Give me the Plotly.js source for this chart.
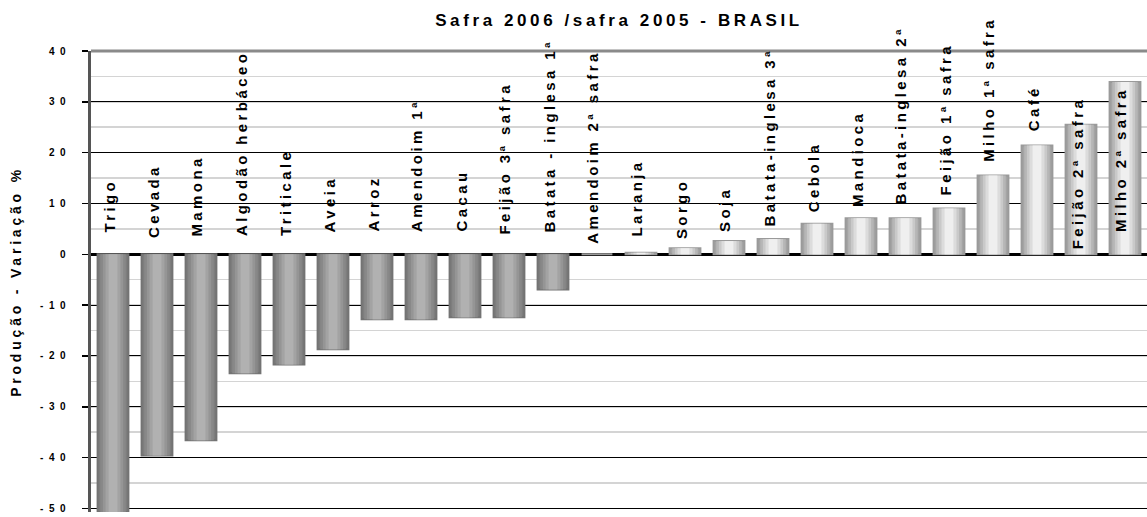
<!DOCTYPE html>
<html>
<head>
<meta charset="utf-8">
<script src="https://cdn.plot.ly/plotly-3.0.1.min.js"></script>
<style>
  html, body { margin: 0; padding: 0; background: #fff; }
  #chart { width: 1147px; height: 517px; }
  .annotation-text { letter-spacing: 3.4px; }
  .gtitle { letter-spacing: 3.6px; }
  .ytick text { letter-spacing: 5.5px; }
  .ytitle { letter-spacing: 3.8px; }
</style>
</head>
<body>
<div id="chart"></div>
<script>
// ---- data ----
const categories = [
  "Trigo", "Cevada", "Mamona", "Algodão herbáceo", "Triticale", "Aveia", "Arroz",
  "Amendoim 1ª", "Cacau", "Feijão 3ª safra", "Batata - inglesa 1ª", "Amendoim 2ª safra",
  "Laranja", "Sorgo", "Soja", "Batata-inglesa 3ª", "Cebola", "Mandioca",
  "Batata-inglesa 2ª", "Feijão 1ª safra", "Milho 1ª safra", "Café", "Feijão 2ª safra", "Milho 2ª safra"
];
const variation = [
  -50.7, -39.6, -36.6, -23.4, -21.7, -18.7, -12.8,
  -12.8, -12.4, -12.4, -6.9, 0.0,
  0.3, 1.2, 2.6, 3.0, 6.0, 7.1,
  7.1, 9.0, 15.5, 21.4, 25.5, 33.9
];
const yTickVals = [-50, -40, -30, -20, -10, 0, 10, 20, 30, 40];
const yTickText = ["-50", "-40", "-30", "-20", "-10", "0", "10", "20", "30", "40"];

// ---- layout-only: where each vertical label's foot sits (axis units) ----
const labelFootY = [
  3.9, 2.8, 3.0, 3.1, 3.1, 3.9, 4.1,
  3.9, 4.1, 3.5, 3.9, 1.6,
  3.0, 2.6, 3.9, 5.1, 7.9, 8.9,
  9.4, 11.2, 17.7, 23.8, 0.6, 3.9
];

// shaded bar look: overlaid layers, narrower and lighter toward the centre
const layers = [
  { w: 0.70, neg: "#7d7d7d", pos: "#a4a4a4", line: true },
  { w: 0.58, neg: "#888888", pos: "#b6b6b6" },
  { w: 0.46, neg: "#959595", pos: "#c9c9c9" },
  { w: 0.34, neg: "#a3a3a3", pos: "#dcdcdc" },
  { w: 0.20, neg: "#b1b1b1", pos: "#efefef" }
];

const traces = layers.map(L => ({
  type: "bar",
  x: categories,
  y: variation,
  width: L.w,
  marker: {
    color: variation.map(v => v < 0 ? L.neg : L.pos),
    line: L.line ? { color: variation.map(v => v < 0 ? "#737373" : "#9a9a9a"), width: 2 } : { width: 0 }
  },
  hoverinfo: "skip",
  showlegend: false
}));

const annotations = categories.map((c, i) => ({
  x: c, y: labelFootY[i], xref: "x", yref: "y",
  text: "<b>" + c + "</b>", textangle: -90, showarrow: false,
  xanchor: "center", yanchor: "bottom", xshift: -4,
  font: { family: "Liberation Sans, Arial, sans-serif", size: 15, color: "#000" }
}));

const layout = {
  width: 1147, height: 517,
  margin: { l: 91, r: 0, t: 51, b: 5, pad: 0 },
  paper_bgcolor: "#fff", plot_bgcolor: "#fff",
  barmode: "overlay",
  title: {
    text: "<b>Safra 2006 /safra 2005 - BRASIL</b>",
    x: 0.5, xref: "paper", xanchor: "center",
    y: 0.962, yref: "container", yanchor: "middle",
    font: { family: "Liberation Sans, Arial, sans-serif", size: 17, color: "#000" }
  },
  xaxis: {
    type: "category",
    showticklabels: false, showgrid: false, zeroline: false, showline: false, ticks: ""
  },
  yaxis: {
    range: [-50.7, 40],
    tickvals: yTickVals, ticktext: yTickText,
    ticks: "outside", ticklen: 6, tickwidth: 1.5, tickcolor: "#000",
    ticklabelstandoff: 9,
    tickfont: { family: "Liberation Sans, Arial, sans-serif", size: 10, color: "#000", weight: "bold" },
    showgrid: true, gridcolor: "#000", gridwidth: 1,
    minor: { dtick: 5, showgrid: true, gridcolor: "#d4d4d4", gridwidth: 1.5, ticks: "" },
    zeroline: true, zerolinecolor: "#000", zerolinewidth: 3,
    showline: true, linecolor: "#555", linewidth: 3,
    title: {
      text: "<b>Produção - Variação %</b>",
      standoff: 16,
      font: { family: "Liberation Sans, Arial, sans-serif", size: 14, color: "#000" }
    }
  },
  shapes: [
    { type: "line", xref: "paper", yref: "paper", x0: 0, x1: 1, y0: 1, y1: 1,
      line: { color: "#8a8a8a", width: 3 }, layer: "above" }
  ],
  annotations: annotations
};

Plotly.newPlot("chart", traces, layout, { staticPlot: true, displayModeBar: false });
</script>
</body>
</html>
